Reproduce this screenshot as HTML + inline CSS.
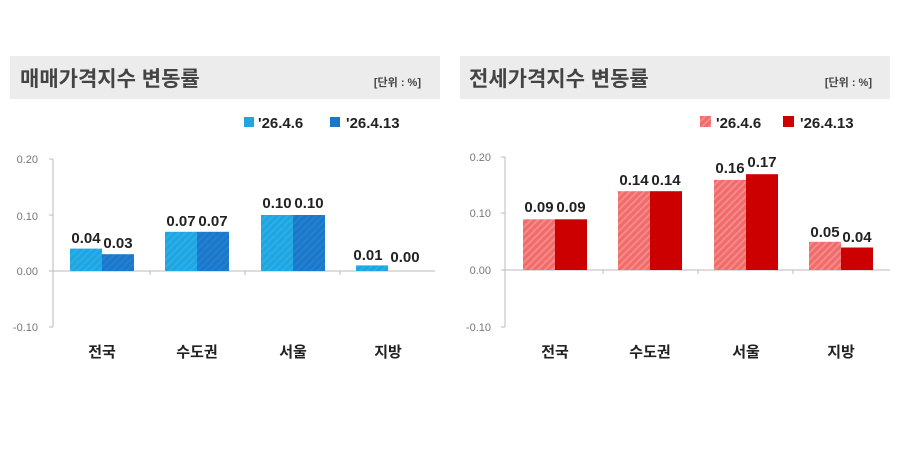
<!DOCTYPE html>
<html><head><meta charset="utf-8"><style>
html,body{margin:0;padding:0;background:#fff;width:900px;height:450px;overflow:hidden}
svg text{font-family:"Liberation Sans","Noto Sans CJK KR",sans-serif}
</style></head><body>
<svg width="900" height="450" viewBox="0 0 900 450" xmlns="http://www.w3.org/2000/svg">
<defs>
<pattern id="hr" width="5" height="5" patternUnits="userSpaceOnUse" patternTransform="rotate(45)">
<rect width="5" height="5" fill="#f26b6b"/><rect width="2" height="5" fill="#f58a8a"/></pattern>
<pattern id="hb" width="5" height="5" patternUnits="userSpaceOnUse" patternTransform="rotate(45)">
<rect width="5" height="5" fill="#1ea5e2"/><rect width="2" height="5" fill="#2caee6"/></pattern>
<pattern id="hb2" width="5" height="5" patternUnits="userSpaceOnUse" patternTransform="rotate(45)">
<rect width="5" height="5" fill="#1b77c9"/><rect width="2" height="5" fill="#2381d0"/></pattern>
</defs>
<!-- LEFT -->
<rect x="10" y="56" width="430" height="43" fill="#ececec"/>
<text x="20" y="86" font-size="21" font-weight="bold" fill="#444">매매가격지수 변동률</text>
<text x="421" y="86" font-size="11" font-weight="bold" fill="#444" text-anchor="end">[단위 : %]</text>
<rect x="244" y="117" width="10" height="10" fill="#1ea5e2"/>
<text x="258" y="128" font-size="15" font-weight="bold" fill="#222">'26.4.6</text>
<rect x="330" y="117" width="10" height="10" fill="#1b77c9"/>
<text x="346" y="128" font-size="15" font-weight="bold" fill="#222">'26.4.13</text>
<g font-size="11" fill="#777" text-anchor="end">
<text x="38" y="163">0.20</text><text x="38" y="220">0.10</text><text x="38" y="275">0.00</text><text x="38" y="331">-0.10</text></g>
<g stroke="#bbb" stroke-width="1">
<line x1="53" y1="159" x2="53" y2="327"/><line x1="49" y1="159" x2="53" y2="159"/><line x1="49" y1="215" x2="53" y2="215"/><line x1="49" y1="327" x2="53" y2="327"/>
<line x1="49" y1="271" x2="435" y2="271"/>
<line x1="150" y1="271" x2="150" y2="275"/><line x1="245" y1="271" x2="245" y2="275"/><line x1="340" y1="271" x2="340" y2="275"/></g>
<rect x="70" y="248.6" width="32" height="22.4" fill="url(#hb)"/><rect x="102" y="254.2" width="32" height="16.8" fill="url(#hb2)"/>
<rect x="165" y="231.8" width="32" height="39.2" fill="url(#hb)"/><rect x="197" y="231.8" width="32" height="39.2" fill="url(#hb2)"/>
<rect x="261" y="215" width="32" height="56" fill="url(#hb)"/><rect x="293" y="215" width="32" height="56" fill="url(#hb2)"/>
<rect x="356" y="265.4" width="32" height="5.6" fill="url(#hb)"/>
<g font-size="15" font-weight="bold" fill="#222" text-anchor="middle">
<text x="86" y="243">0.04</text><text x="118" y="248">0.03</text>
<text x="181" y="226">0.07</text><text x="213" y="226">0.07</text>
<text x="277" y="208">0.10</text><text x="309" y="208">0.10</text>
<text x="368" y="260">0.01</text><text x="405" y="262">0.00</text>
</g>
<g font-size="15" font-weight="bold" fill="#222" text-anchor="middle">
<text x="102" y="357">전국</text><text x="197" y="357">수도권</text><text x="293" y="357">서울</text><text x="388" y="357">지방</text></g>
<!-- RIGHT -->
<rect x="460" y="56" width="430" height="43" fill="#ececec"/>
<text x="469" y="86" font-size="21" font-weight="bold" fill="#444">전세가격지수 변동률</text>
<text x="872" y="86" font-size="11" font-weight="bold" fill="#444" text-anchor="end">[단위 : %]</text>
<rect x="700" y="116" width="11" height="11" fill="url(#hr)"/>
<text x="716" y="128" font-size="15" font-weight="bold" fill="#222">'26.4.6</text>
<rect x="783" y="116" width="11" height="11" fill="#cc0000"/>
<text x="800" y="128" font-size="15" font-weight="bold" fill="#222">'26.4.13</text>
<g font-size="11" fill="#777" text-anchor="end">
<text x="491" y="161">0.20</text><text x="491" y="217">0.10</text><text x="491" y="274">0.00</text><text x="491" y="331">-0.10</text></g>
<g stroke="#bbb" stroke-width="1">
<line x1="505" y1="157" x2="505" y2="327"/><line x1="501" y1="157" x2="505" y2="157"/><line x1="501" y1="213" x2="505" y2="213"/><line x1="501" y1="327" x2="505" y2="327"/>
<line x1="501" y1="270" x2="890" y2="270"/>
<line x1="603" y1="270" x2="603" y2="274"/><line x1="698" y1="270" x2="698" y2="274"/><line x1="793" y1="270" x2="793" y2="274"/></g>
<rect x="523" y="219.3" width="32" height="50.7" fill="url(#hr)"/><rect x="555" y="219.3" width="32" height="50.7" fill="#cc0000"/>
<rect x="618" y="191.2" width="32" height="78.8" fill="url(#hr)"/><rect x="650" y="191.2" width="32" height="78.8" fill="#cc0000"/>
<rect x="714" y="179.9" width="32" height="90.1" fill="url(#hr)"/><rect x="746" y="174.2" width="32" height="95.8" fill="#cc0000"/>
<rect x="809" y="241.8" width="32" height="28.2" fill="url(#hr)"/><rect x="841" y="247.5" width="32" height="22.5" fill="#cc0000"/>
<g font-size="15" font-weight="bold" fill="#222" text-anchor="middle">
<text x="539" y="212">0.09</text><text x="571" y="212">0.09</text>
<text x="634" y="185">0.14</text><text x="666" y="185">0.14</text>
<text x="730" y="173">0.16</text><text x="762" y="167">0.17</text>
<text x="825" y="237">0.05</text><text x="857" y="242">0.04</text>
</g>
<g font-size="15" font-weight="bold" fill="#222" text-anchor="middle">
<text x="555" y="357">전국</text><text x="650" y="357">수도권</text><text x="746" y="357">서울</text><text x="841" y="357">지방</text></g>
</svg>
</body></html>
